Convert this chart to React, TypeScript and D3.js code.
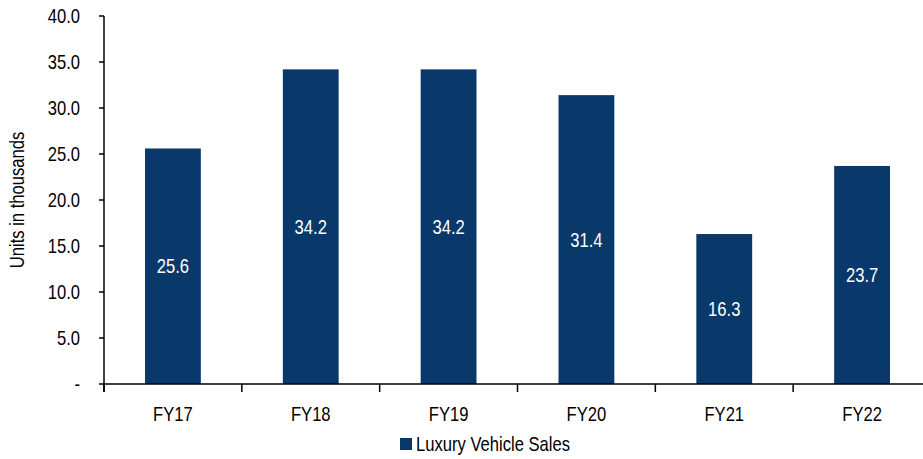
import React from "react";
import * as d3 from "d3";

const categories = ["FY17", "FY18", "FY19", "FY20", "FY21", "FY22"];
const sales = [25.6, 34.2, 34.2, 31.4, 16.3, 23.7];
const yTicks = [0, 5, 10, 15, 20, 25, 30, 35, 40];
const seriesName = "Luxury Vehicle Sales";
const yTitle = "Units in thousands";

const W = 923;
const H = 459;
const FONT = "'Liberation Sans', Arial, sans-serif";
const FS = 20;
const NARROW = 0.83; // horizontal squeeze for a condensed look
const BAR = "#08396A";

type NTProps = {
  x: number;
  y: number;
  anchor?: "start" | "middle" | "end";
  fill?: string;
  rotate?: number;
  dy?: string;
  children: React.ReactNode;
};

// Text drawn with a narrowed glyph width
function NText({ x, y, anchor = "start", fill = "#000", rotate = 0, dy, children }: NTProps) {
  return (
    <text
      transform={`translate(${x},${y}) rotate(${rotate}) scale(${NARROW},1)`}
      textAnchor={anchor}
      dy={dy}
      fontFamily={FONT}
      fontSize={FS}
      fill={fill}
    >
      {children}
    </text>
  );
}

export default function App() {
  const x = d3.scaleBand<string>().domain(categories).range([104, 931]).padding(0);
  const y = d3.scaleLinear().domain([0, 40]).range([384, 16]);
  const barW = x.bandwidth() * 0.405;
  const fmt = (v: number) => (v === 0 ? "-" : d3.format(".1f")(v));
  const boundaries = categories.map((c) => x(c) as number);

  return (
    <svg width={W} height={H} style={{ position: "absolute", left: 0, top: 0, background: "#fff" }}>
      {/* bars */}
      {categories.map((c, i) => {
        const cx = (x(c) as number) + x.bandwidth() / 2;
        const top = y(sales[i]);
        return (
          <g key={c}>
            <rect x={cx - barW / 2} y={top} width={barW} height={y(0) - top} fill={BAR} />
            <NText x={cx} y={(top + y(0)) / 2} dy="0.36em" anchor="middle" fill="#fff">
              {sales[i].toFixed(1)}
            </NText>
          </g>
        );
      })}

      {/* y axis */}
      <line x1={104} x2={104} y1={y(40)} y2={392} stroke="#000" strokeWidth={1.5} />
      {yTicks.map((t) => (
        <g key={t}>
          <line x1={99} x2={104} y1={y(t)} y2={y(t)} stroke="#000" strokeWidth={1.5} />
          <NText x={80} y={y(t)} dy="0.36em" anchor="end">
            {fmt(t)}
          </NText>
        </g>
      ))}
      <NText x={24} y={(y(0) + y(40)) / 2} rotate={-90} anchor="middle">
        {yTitle}
      </NText>

      {/* x axis */}
      <line x1={104} x2={W} y1={y(0)} y2={y(0)} stroke="#000" strokeWidth={1.5} />
      {boundaries.map((b, i) => (
        <line key={i} x1={b} x2={b} y1={y(0)} y2={392} stroke="#000" strokeWidth={1.5} />
      ))}
      {categories.map((c) => (
        <NText key={c} x={(x(c) as number) + x.bandwidth() / 2} y={421} anchor="middle">
          {c}
        </NText>
      ))}

      {/* legend */}
      <rect x={400} y={438} width={12} height={12} fill={BAR} />
      <NText x={416} y={451}>
        {seriesName}
      </NText>
    </svg>
  );
}
